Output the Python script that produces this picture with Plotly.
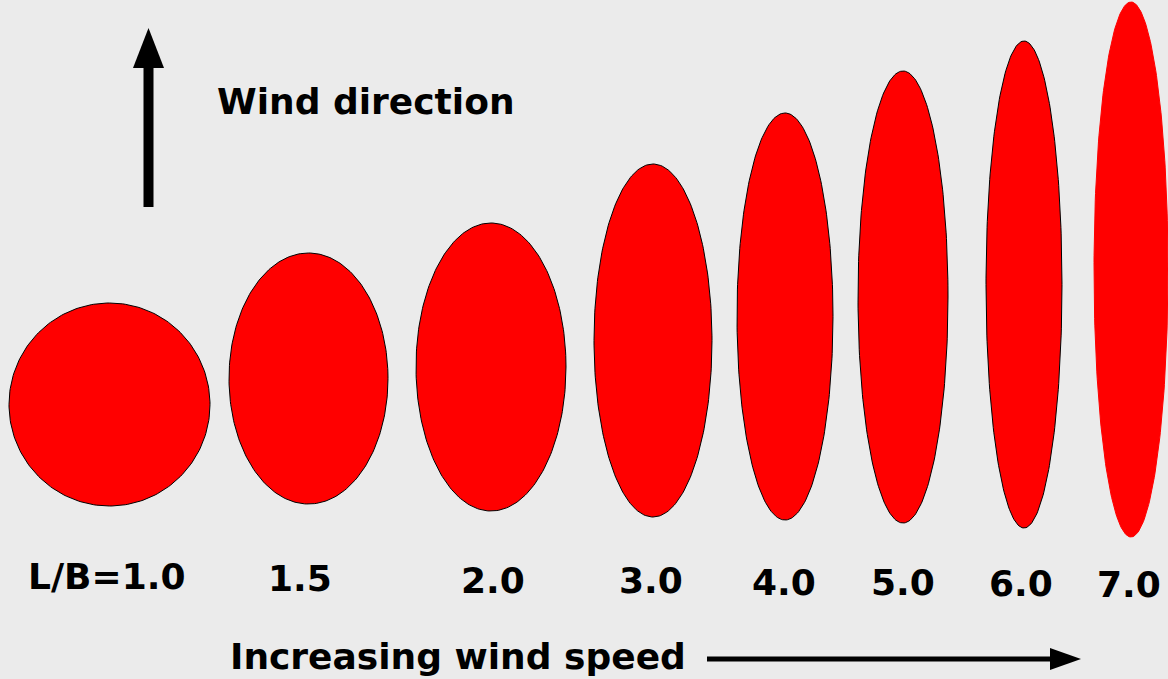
import numpy as np
import plotly.graph_objects as go

# ---- data ----
labels = ["L/B=1.0", "1.5", "2.0", "3.0", "4.0", "5.0", "6.0", "7.0"]
ratio = [1.0, 1.5, 2.0, 3.0, 4.0, 5.0, 6.0, 7.0]
# drawn ellipse size in chart units (length along wind, breadth across)
length = [203, 251, 288, 353, 407, 452, 487, 535]
breadth = [201, 159, 150, 118, 96, 90, 76, 74]
# ellipse centre positions
x_center = [109.5, 308.5, 491, 653, 785, 903, 1024, 1131]
y_center = [404.5, 378.5, 367, 340.5, 316.5, 297, 284.5, 269.5]
# label positions
label_x = [106, 300, 493, 651, 784, 903, 1021, 1129]
label_y = [576, 578, 580, 580, 582, 582, 583, 584]

BG = "#ebebeb"
RED = "#ff0000"
FONT = dict(family="DejaVu Sans", size=36, color="black", weight="bold")

fig = go.Figure()

t = np.linspace(0, 2 * np.pi, 241)
for i in range(len(ratio)):
    xs = x_center[i] + breadth[i] / 2 * np.cos(t)
    ys = y_center[i] + length[i] / 2 * np.sin(t)
    last = i == len(ratio) - 1
    fig.add_trace(go.Scatter(
        x=xs, y=ys, mode="lines", fill="toself", fillcolor=RED,
        line=dict(color=RED if last else "black", width=1),
        hoverinfo="skip", showlegend=False,
    ))

for i, lab in enumerate(labels):
    fig.add_annotation(x=label_x[i], y=label_y[i], text=lab, showarrow=False,
                       xref="x", yref="y", xanchor="center", yanchor="middle",
                       font=FONT)

fig.add_annotation(x=215, y=101, text="Wind direction", showarrow=False,
                   xref="x", yref="y", xanchor="left", yanchor="middle", font=FONT)
fig.add_annotation(x=228, y=656, text="Increasing wind speed", showarrow=False,
                   xref="x", yref="y", xanchor="left", yanchor="middle", font=FONT)

# arrows (decoration)
fig.add_shape(type="rect", x0=143.5, x1=153.5, y0=62, y1=207, xref="x", yref="y",
              fillcolor="black", line=dict(width=0))
fig.add_shape(type="path", path="M 133,68 L 164,68 L 148.5,28 Z", xref="x", yref="y",
              fillcolor="black", line=dict(width=0))
fig.add_shape(type="rect", x0=707, x1=1055, y0=656.5, y1=661.5, xref="x", yref="y",
              fillcolor="black", line=dict(width=0))
fig.add_shape(type="path", path="M 1050,648 L 1050,670 L 1081,659 Z", xref="x", yref="y",
              fillcolor="black", line=dict(width=0))

fig.update_layout(
    width=1168, height=679,
    margin=dict(l=0, r=0, t=0, b=0),
    paper_bgcolor=BG, plot_bgcolor=BG,
    xaxis=dict(range=[0, 1168], visible=False, fixedrange=True),
    yaxis=dict(range=[679, 0], visible=False, fixedrange=True),
    showlegend=False,
)

fig.write_html(
    "out.html",
    config={"displayModeBar": False},
    post_script="document.body.style.margin='0';document.body.style.overflow='hidden';"
                "document.body.style.background='" + BG + "';",
)
